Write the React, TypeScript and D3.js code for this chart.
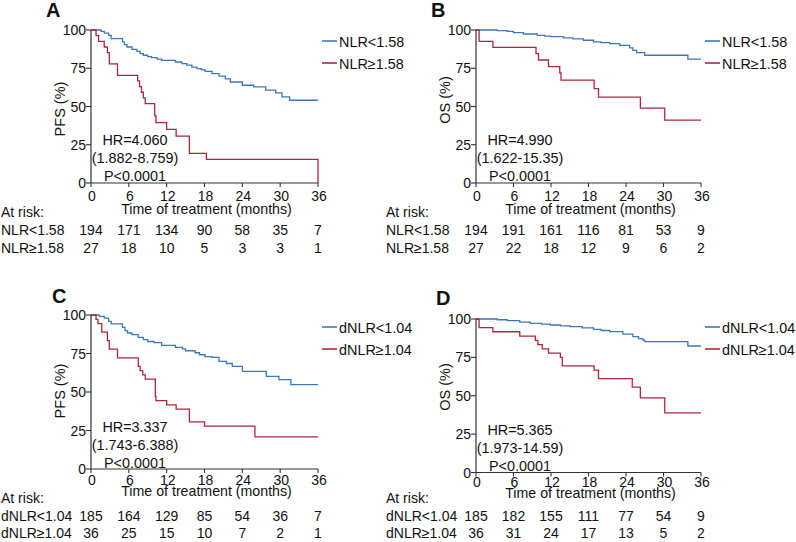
import React from "react";
import * as d3 from "d3";

// ---------- data ----------
const monthTicks = [0, 6, 12, 18, 24, 30, 36];
const pctTicks = [0, 25, 50, 75, 100];

const panelLetters = ["A", "B", "C", "D"];
const yAxisTitles = ["PFS (%)", "OS (%)", "PFS (%)", "OS (%)"];
const lowGroupNames = ["NLR<1.58", "NLR<1.58", "dNLR<1.04", "dNLR<1.04"];
const highGroupNames = ["NLR≥1.58", "NLR≥1.58", "dNLR≥1.04", "dNLR≥1.04"];
const hrLabels = ["HR=4.060", "HR=4.990", "HR=3.337", "HR=5.365"];
const ciLabels = ["(1.882-8.759)", "(1.622-15.35)", "(1.743-6.388)", "(1.973-14.59)"];
const pLabels = ["P<0.0001", "P<0.0001", "P<0.0001", "P<0.0001"];
const xAxisTitle = "Time of treatment (months)";
const atRiskTitle = "At risk:";

const riskLow = [
  [194, 171, 134, 90, 58, 35, 7],
  [194, 191, 161, 116, 81, 53, 9],
  [185, 164, 129, 85, 54, 36, 7],
  [185, 182, 155, 111, 77, 54, 9],
];
const riskHigh = [
  [27, 18, 10, 5, 3, 3, 1],
  [27, 22, 18, 12, 9, 6, 2],
  [36, 25, 15, 10, 7, 2, 1],
  [36, 31, 24, 17, 13, 5, 2],
];

// Panel A (PFS, NLR)
const aLowT = [0, 1.6, 2.1, 2.8, 3.2, 5.0, 5.3, 5.7, 6.5, 7.3, 7.8, 8.3, 9.0, 9.6, 10.5, 11.2, 13.4, 14.4, 15.2, 16.0, 16.8, 17.5, 18.1, 19.2, 20.3, 21.3, 22.1, 24.0, 25.8, 27.7, 29.3, 30.3, 31.5, 36];
const aLowS = [100, 99.1, 98.0, 96.5, 94.3, 92.3, 90.4, 88.9, 87.4, 86.0, 84.6, 83.5, 82.6, 82.0, 81.0, 80.2, 79.1, 78.0, 77.0, 75.8, 74.8, 73.9, 73.0, 71.5, 69.8, 68.0, 66.0, 63.9, 62.8, 60.7, 58.9, 56.3, 54.1, 54.1];
const aHighT = [0, 0.8, 1.2, 2.1, 2.6, 2.9, 4.2, 7.4, 7.7, 8.0, 8.3, 8.6, 10.1, 10.3, 12.0, 13.5, 15.6, 18.3, 36, 36];
const aHighS = [100, 96.3, 92.6, 88.9, 85.2, 77.8, 70.4, 66.7, 63.0, 59.3, 55.6, 51.9, 44.0, 39.5, 35.1, 30.7, 19.3, 15.4, 15.4, 0];

// Panel B (OS, NLR)
const bLowT = [0, 3.4, 5.0, 6.0, 7.6, 9.8, 11.0, 11.9, 14.0, 15.5, 17.2, 18.8, 20.0, 21.4, 23.0, 24.6, 25.1, 25.7, 27.0, 33.9, 36];
const bLowS = [100, 99.6, 99.1, 98.3, 97.4, 96.5, 96.0, 95.7, 94.8, 94.2, 93.3, 92.2, 91.7, 91.1, 90.0, 88.3, 86.7, 85.2, 83.5, 80.9, 80.9];
const bHighT = [0, 0.5, 2.7, 9.6, 10.0, 11.6, 13.4, 13.6, 18.9, 19.6, 26.3, 30.2, 36];
const bHighS = [100, 92.6, 88.7, 84.5, 80.4, 76.0, 72.0, 67.3, 61.7, 56.1, 48.9, 41.1, 41.1];

// Panel C (PFS, dNLR)
const cLowT = [0, 1.3, 2.1, 2.8, 3.2, 5.0, 5.4, 5.8, 6.5, 7.5, 8.3, 9.0, 10.0, 11.2, 13.4, 14.5, 15.0, 16.5, 17.2, 18.1, 19.2, 20.3, 21.5, 22.4, 24.0, 27.8, 29.8, 31.7, 36];
const cLowS = [100, 99.1, 98.0, 95.9, 94.2, 92.0, 89.8, 88.3, 87.2, 85.5, 84.0, 82.8, 82.0, 80.3, 79.0, 78.0, 76.8, 75.5, 74.2, 73.0, 72.5, 69.9, 68.5, 66.7, 63.4, 60.2, 58.0, 54.8, 54.8];
const cHighT = [0, 0.8, 1.1, 1.7, 2.6, 2.9, 4.2, 7.5, 7.8, 8.2, 8.6, 10.2, 10.3, 12.0, 13.5, 15.6, 18.0, 26.0, 36];
const cHighS = [100, 97.2, 94.4, 88.9, 83.3, 77.8, 72.2, 66.7, 63.9, 61.1, 58.3, 47.2, 44.4, 41.7, 38.9, 30.6, 27.8, 20.8, 20.8];

// Panel D (OS, dNLR)
const dLowT = [0, 3.4, 5.0, 7.0, 8.7, 10.5, 11.9, 13.5, 15.1, 17.0, 18.8, 20.0, 21.4, 23.5, 25.1, 26.0, 26.7, 27.0, 33.9, 36];
const dLowS = [100, 99.5, 98.9, 98.0, 97.2, 96.6, 96.1, 95.5, 95.0, 94.2, 93.3, 92.5, 91.8, 90.2, 88.5, 87.2, 86.3, 85.2, 82.4, 82.4];
const dHighT = [0, 0.5, 2.7, 7.0, 9.5, 9.9, 10.6, 11.6, 13.5, 13.8, 18.9, 19.6, 25.0, 26.3, 30.2, 36];
const dHighS = [100, 94.4, 91.7, 88.9, 86.1, 83.3, 80.6, 77.8, 75.0, 69.4, 66.7, 61.1, 55.6, 48.6, 38.9, 38.9];

const lowTimes = [aLowT, bLowT, cLowT, dLowT];
const lowSurv = [aLowS, bLowS, cLowS, dLowS];
const highTimes = [aHighT, bHighT, cHighT, dHighT];
const highSurv = [aHighS, bHighS, cHighS, dHighS];

// ---------- layout ----------
const layouts = [
  { left: 91, right: 318, top: 30, bottom: 183, letterX: 46, letterY: 17, yTitleY: 109, legY: 41, xTickY: 201, xTitleY: 214, riskTitleY: 217, row1Y: 235, row2Y: 253, hrY: 145 },
  { left: 476, right: 701, top: 30, bottom: 183, letterX: 431, letterY: 17, yTitleY: 100, legY: 41, xTickY: 201, xTitleY: 214, riskTitleY: 217, row1Y: 235, row2Y: 253, hrY: 145 },
  { left: 91, right: 318, top: 315, bottom: 469, letterX: 52, letterY: 303, yTitleY: 391, legY: 327, xTickY: 485, xTitleY: 496, riskTitleY: 503, row1Y: 521, row2Y: 538, hrY: 432 },
  { left: 476, right: 701, top: 319, bottom: 472.5, letterX: 436, letterY: 305, yTitleY: 387, legY: 327, xTickY: 487, xTitleY: 498, riskTitleY: 503, row1Y: 521, row2Y: 538, hrY: 435 },
];

const BLUE = "#3c78b9";
const RED = "#b2263a";
const AXIS = "#333";
const FONT = "'Liberation Sans', Arial, Helvetica, sans-serif";

function Panel({ i }: { i: number }) {
  const L = layouts[i];
  const x = d3.scaleLinear().domain([0, 36]).range([L.left, L.right]);
  const y = d3.scaleLinear().domain([0, 100]).range([L.bottom, L.top]);
  const line = d3
    .line<[number, number]>()
    .x((d) => x(d[0]))
    .y((d) => y(d[1]))
    .curve(d3.curveStepAfter);
  const low = lowTimes[i].map((t, k) => [t, lowSurv[i][k]] as [number, number]);
  const high = highTimes[i].map((t, k) => [t, highSurv[i][k]] as [number, number]);
  const hrX = L.left + 44;
  const labelX = L.left - 90;
  return (
    <g fontFamily={FONT} fill="#111">
      <text x={L.letterX} y={L.letterY} fontSize={20} fontWeight="bold">
        {panelLetters[i]}
      </text>
      {/* curves */}
      <path d={line(low) || ""} fill="none" stroke={BLUE} strokeWidth={1.3} />
      <path d={line(high) || ""} fill="none" stroke={RED} strokeWidth={1.3} />
      {/* y axis */}
      <line x1={L.left} x2={L.left} y1={y(0)} y2={y(100)} stroke={AXIS} strokeWidth={1.2} />
      {pctTicks.map((v) => (
        <g key={"y" + v}>
          <line x1={L.left - 5} x2={L.left} y1={y(v)} y2={y(v)} stroke={AXIS} strokeWidth={1.1} />
          <text x={L.left - 5} y={y(v)} dy="0.36em" textAnchor="end" fontSize={14}>
            {v}
          </text>
        </g>
      ))}
      <text
        transform={`translate(${L.left - 26},${L.yTitleY}) rotate(-90)`}
        textAnchor="middle"
        fontSize={14.5}
      >
        {yAxisTitles[i]}
      </text>
      {/* x axis */}
      <line x1={x(0)} x2={x(36)} y1={L.bottom} y2={L.bottom} stroke={AXIS} strokeWidth={1.2} />
      {monthTicks.map((m) => (
        <g key={"x" + m}>
          <line x1={x(m)} x2={x(m)} y1={L.bottom} y2={L.bottom + 4} stroke={AXIS} strokeWidth={1.1} />
          <text x={x(m) + 1} y={L.xTickY} textAnchor="middle" fontSize={14}>
            {m}
          </text>
        </g>
      ))}
      <text x={(L.left + L.right) / 2 + 2} y={L.xTitleY} textAnchor="middle" fontSize={14.2}>
        {xAxisTitle}
      </text>
      {/* HR annotation */}
      <text x={hrX} y={L.hrY} textAnchor="middle" fontSize={14.4}>
        {hrLabels[i]}
      </text>
      <text x={hrX} y={L.hrY + 18} textAnchor="middle" fontSize={14.4}>
        {ciLabels[i]}
      </text>
      <text x={hrX} y={L.hrY + 36} textAnchor="middle" fontSize={14.4}>
        {pLabels[i]}
      </text>
      {/* legend */}
      <line x1={L.right + 4} x2={L.right + 19} y1={L.legY} y2={L.legY} stroke={BLUE} strokeWidth={1.6} />
      <text x={L.right + 21} y={L.legY + 5.5} fontSize={14.4}>
        {lowGroupNames[i]}
      </text>
      <line x1={L.right + 4} x2={L.right + 19} y1={L.legY + 22} y2={L.legY + 22} stroke={RED} strokeWidth={1.6} />
      <text x={L.right + 21} y={L.legY + 27.5} fontSize={14.4}>
        {highGroupNames[i]}
      </text>
      {/* at risk table */}
      <text x={labelX} y={L.riskTitleY} fontSize={14}>
        {atRiskTitle}
      </text>
      <text x={labelX} y={L.row1Y} fontSize={14}>
        {lowGroupNames[i]}
      </text>
      <text x={labelX} y={L.row2Y} fontSize={14}>
        {highGroupNames[i]}
      </text>
      {monthTicks.map((m, k) => (
        <g key={"r" + m}>
          <text x={x(m)} y={L.row1Y} textAnchor="middle" fontSize={14}>
            {riskLow[i][k]}
          </text>
          <text x={x(m)} y={L.row2Y} textAnchor="middle" fontSize={14}>
            {riskHigh[i][k]}
          </text>
        </g>
      ))}
    </g>
  );
}

export default function App() {
  return (
    <svg
      width={796}
      height={542}
      viewBox="0 0 796 542"
      style={{ position: "absolute", left: 0, top: 0, background: "#fff" }}
    >
      <rect width={796} height={542} fill="#fff" />
      {[0, 1, 2, 3].map((i) => (
        <Panel key={i} i={i} />
      ))}
    </svg>
  );
}
